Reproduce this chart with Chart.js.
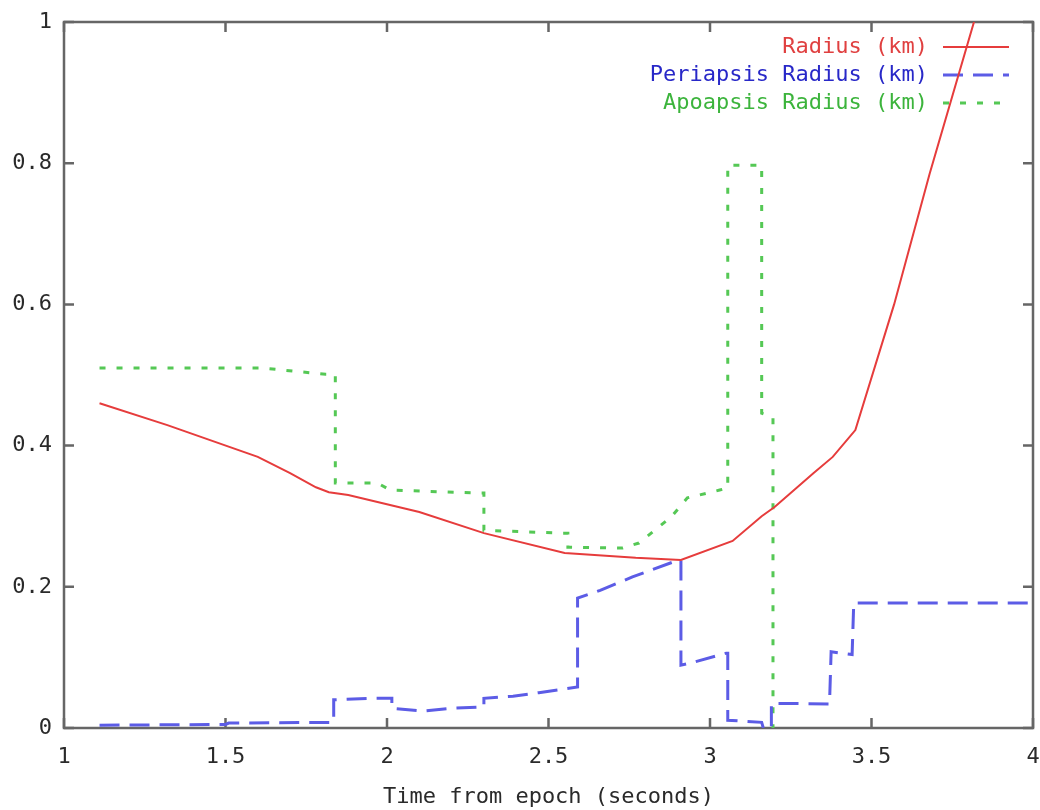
<!DOCTYPE html>
<html>
<head>
<meta charset="utf-8">
<title>Orbit radius</title>
<script src="https://cdn.jsdelivr.net/npm/chart.js@4"></script>
<style>
  html, body { margin: 0; padding: 0; background: #fff; }
  #wrap { width: 1040px; height: 810px; }
</style>
</head>
<body>
<div id="wrap"><canvas id="orbit"></canvas></div>
<script>
// ---- data (time in seconds, radii in km) ----
const radiusT  = [1.11, 1.32, 1.60, 1.70, 1.78, 1.82, 1.88, 2.10, 2.30, 2.55, 2.77, 2.91, 3.07, 3.16, 3.20, 3.32, 3.38, 3.45, 3.57, 3.68, 3.83];
const radiusKm = [0.460, 0.429, 0.384, 0.361, 0.341, 0.334, 0.330, 0.306, 0.276, 0.248, 0.241, 0.238, 0.265, 0.300, 0.313, 0.361, 0.384, 0.422, 0.600, 0.785, 1.020];

const periT  = [1.11, 1.50, 1.51, 1.835, 1.835, 1.95, 2.015, 2.015, 2.11, 2.20, 2.30, 2.30, 2.39, 2.47, 2.59, 2.59, 2.66, 2.76, 2.885, 2.91, 2.91, 2.94, 3.05, 3.055, 3.055, 3.16, 3.165, 3.19, 3.19, 3.37, 3.375, 3.44, 3.445, 4.0];
const periKm = [0.004, 0.005, 0.007, 0.008, 0.040, 0.042, 0.042, 0.028, 0.024, 0.028, 0.030, 0.042, 0.045, 0.050, 0.058, 0.184, 0.195, 0.214, 0.235, 0.238, 0.089, 0.092, 0.106, 0.106, 0.011, 0.008, 0.0, 0.0, 0.035, 0.034, 0.108, 0.104, 0.177, 0.177];

const apoT  = [1.11, 1.61, 1.81, 1.84, 1.84, 1.97, 2.01, 2.27, 2.30, 2.30, 2.54, 2.56, 2.56, 2.73, 2.78, 2.88, 2.93, 3.03, 3.055, 3.055, 3.16, 3.16, 3.195, 3.195];
const apoKm = [0.510, 0.510, 0.501, 0.501, 0.347, 0.347, 0.337, 0.333, 0.333, 0.280, 0.276, 0.276, 0.256, 0.255, 0.262, 0.299, 0.326, 0.337, 0.340, 0.797, 0.797, 0.446, 0.440, 0.0];

const seriesNames = ["Radius (km)", "Periapsis Radius (km)", "Apoapsis Radius (km)"];
const lineColors  = ["#e63c3c", "#5c5ce6", "#55c855"];
const textColors  = ["#e04040", "#2828c8", "#3cb43c"];

const xTitle = "Time from epoch (seconds)";
const FONT = "DejaVu Sans Mono";

function pairs(xs, ys) {
  return xs.map((x, i) => ({ x: x, y: ys[i] }));
}

// gnuplot-style numbers: 1, 1.5, 0.2 (no forced decimals)
const plainNum = v => String(+v.toFixed(2));

// ---- box around the plot with inward ticks on all four sides ----
const frame = {
  id: "frame",
  beforeDatasetsDraw(chart) {
    const { ctx, chartArea: a, scales } = chart;
    const x = scales.x, y = scales.y;
    ctx.save();
    ctx.strokeStyle = "#666";
    ctx.lineWidth = 2.5;
    ctx.strokeRect(a.left, a.top, a.width, a.height);
    ctx.beginPath();
    x.ticks.forEach(t => {
      const px = x.getPixelForValue(t.value);
      ctx.moveTo(px, a.bottom); ctx.lineTo(px, a.bottom - 10);
      ctx.moveTo(px, a.top);    ctx.lineTo(px, a.top + 10);
    });
    y.ticks.forEach(t => {
      const py = y.getPixelForValue(t.value);
      ctx.moveTo(a.left, py);  ctx.lineTo(a.left + 10, py);
      ctx.moveTo(a.right, py); ctx.lineTo(a.right - 10, py);
    });
    ctx.stroke();
    ctx.restore();
  }
};

// ---- key in the top right corner: text right-aligned, sample after it ----
const key = {
  id: "key",
  beforeDatasetsDraw(chart) {
    const { ctx, chartArea: a } = chart;
    const textRight = a.right - 105;
    const sx0 = a.right - 90, sx1 = a.right - 24;
    ctx.save();
    ctx.font = "22px '" + FONT + "'";
    ctx.textAlign = "right";
    ctx.textBaseline = "middle";
    chart.data.datasets.forEach((ds, i) => {
      const yy = a.top + 25 + i * 28;
      ctx.fillStyle = textColors[i];
      ctx.fillText(ds.label, textRight, yy);
      ctx.strokeStyle = ds.borderColor;
      ctx.lineWidth = ds.borderWidth;
      ctx.setLineDash(ds.borderDash || []);
      ctx.beginPath();
      ctx.moveTo(sx0, yy);
      ctx.lineTo(sx1, yy);
      ctx.stroke();
    });
    ctx.restore();
  }
};

Chart.defaults.font.family = FONT;
Chart.defaults.font.size = 22;
Chart.defaults.color = "#2a2a2a";

new Chart(document.getElementById("orbit"), {
  type: "scatter",
  data: {
    datasets: [
      {
        label: seriesNames[0],
        data: pairs(radiusT, radiusKm),
        borderColor: lineColors[0],
        borderWidth: 2,
        showLine: true
      },
      {
        label: seriesNames[1],
        data: pairs(periT, periKm),
        borderColor: lineColors[1],
        borderWidth: 3,
        borderDash: [20, 10],
        showLine: true
      },
      {
        label: seriesNames[2],
        data: pairs(apoT, apoKm),
        borderColor: lineColors[2],
        borderWidth: 3,
        borderDash: [6, 11],
        showLine: true
      }
    ]
  },
  options: {
    responsive: true,
    maintainAspectRatio: false,
    animation: false,
    layout: { padding: { top: 22, right: 7, left: 0, bottom: 0 } },
    elements: { point: { radius: 0, hoverRadius: 0 }, line: { tension: 0 } },
    plugins: {
      legend: { display: false },
      tooltip: { enabled: false }
    },
    scales: {
      x: {
        type: "linear",
        min: 1,
        max: 4,
        border: { display: false },
        grid: { display: false, drawTicks: false },
        ticks: { stepSize: 0.5, padding: 16, maxRotation: 0, callback: plainNum },
        title: { display: true, text: xTitle, padding: { top: 4, bottom: 0 } },
        afterFit: s => { s.height = 82; s.paddingLeft = 0; s.paddingRight = 0; }
      },
      y: {
        min: 0,
        max: 1,
        border: { display: false },
        grid: { display: false, drawTicks: false },
        ticks: { stepSize: 0.2, padding: 12, callback: plainNum },
        afterFit: s => { s.width = 64; s.paddingTop = 0; s.paddingBottom = 0; }
      }
    }
  },
  plugins: [frame, key]
});
</script>
</body>
</html>
